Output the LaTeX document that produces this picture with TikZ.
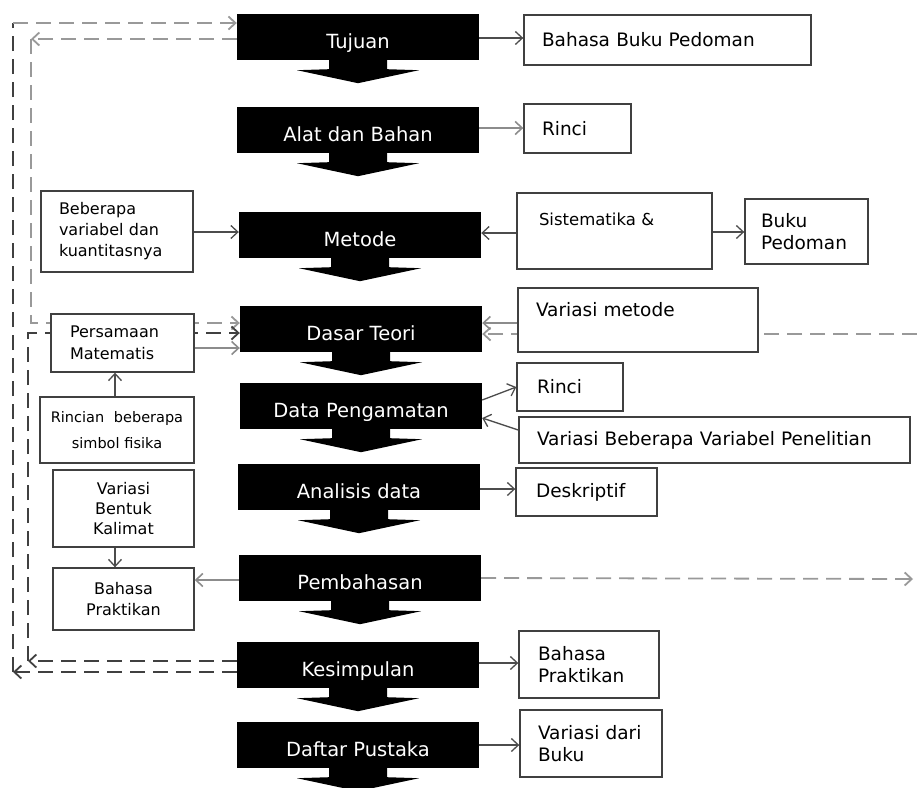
\documentclass[tikz,border=0pt]{standalone}
\usepackage{fontspec}
\setmainfont{DejaVu Sans}
\usetikzlibrary{arrows.meta}
\usetikzlibrary{backgrounds}

\tikzset{
  langkah/.style={fill=black, text=white, minimum width=242pt, minimum height=46pt, inner sep=0pt, text height=27pt, text depth=4pt, font=\fontsize{19.5}{23}\selectfont},
  kotak/.style={draw=black!75, line width=1.4pt, fill=white, inner ysep=2pt},
  kanan/.style={kotak, align=left, inner xsep=18pt, font=\fontsize{18.5}{22}\selectfont},
  kiri/.style={kotak, inner xsep=6pt, font=\fontsize{16}{21}\selectfont},
  garis/.style={draw=black!70, line width=1.3pt},
  garisabu/.style={draw=black!45, line width=1.6pt},
  putus/.style={line width=1.8pt, dash pattern=on 15pt off 8pt},
  >={Straight Barb[length=7pt,width=13pt]}
}

\begin{document}
\begin{tikzpicture}[x=1pt, y=-1pt]

  \useasboundingbox (0,0) rectangle (917,787);

  %langkah utama:
  \node[langkah] (tuj) at (358,37) {Tujuan};
  \node[langkah] (ala) at (358,130) {Alat dan Bahan};
  \node[langkah] (met) at (360,235) {Metode};
  \node[langkah] (das) at (361,329) {Dasar Teori};
  \node[langkah] (dat) at (361,406) {Data Pengamatan};
  \node[langkah] (ana) at (359,487) {Analisis data};
  \node[langkah] (pem) at (360,578) {Pembahasan};
  \node[langkah] (kes) at (358,665) {Kesimpulan};
  \node[langkah] (daf) at (358,745) {Daftar Pustaka};

  %panah blok ke bawah
  \foreach \n in {tuj,ala,met,das,dat,ana,pem,kes,daf}
    \fill[black] ([xshift=-29pt]\n.south) -- ++(0,9) -- ++(-32,1) -- ++(61,13)
      -- ++(61,-13) -- ++(-32,-1) -- ++(0,-9) -- cycle;

  %kotak kanan
  \node[kanan, text width=251pt, minimum height=50pt] (bbp) at (667.5,40) {Bahasa Buku Pedoman};
  \node[kanan, text width=71pt, minimum height=49pt] (rinA) at (577.5,128.5) {Rinci};
  \node[kanan, inner xsep=22pt, text width=151pt, minimum height=76pt, font=\fontsize{16.5}{24}\selectfont] (sis) at (614.5,231) {Sistematika \&\\~};
  \node[kanan, inner xsep=16pt, text width=91pt, minimum height=65pt] (ped) at (806.5,231.5) {Buku\\Pedoman};
  \node[kanan, text width=204pt, minimum height=64pt] (varM) at (638,320) {Variasi metode\\~};
  \node[kanan, inner xsep=20pt, text width=66pt, minimum height=48pt] (rinB) at (570,387) {Rinci};
  \node[kanan, text width=355pt, minimum height=46pt] (varB) at (714.5,440) {Variasi Beberapa Variabel Penelitian};
  \node[kanan, inner xsep=20pt, text width=101pt, minimum height=48pt] (des) at (586.5,492) {Deskriptif};
  \node[kanan, inner xsep=19pt, text width=102pt, minimum height=67pt] (prakR) at (589,664.5) {Bahasa\\Praktikan};
  \node[kanan, text width=106pt, minimum height=67pt] (vdb) at (591,743.5) {Variasi dari\\Buku};

  %kotak kiri
  \node[kiri, align=left, inner xsep=18pt, text width=116pt, minimum height=81pt] (beb) at (117,231.5) {Beberapa\\variabel dan\\kuantitasnya};
  \node[kiri, align=left, inner xsep=19pt, text width=105pt, minimum height=58pt, font=\fontsize{16}{22}\selectfont] (pers) at (122.5,343) {Persamaan\\Matematis};
  \node[kiri, align=center, text width=142pt, minimum height=66pt, font=\fontsize{14.5}{26}\selectfont] (rinc) at (117,430) {Rincian~~beberapa\\simbol fisika};
  \node[kiri, align=center, text width=129pt, minimum height=77pt, font=\fontsize{16}{20}\selectfont] (bent) at (123.5,508.5) {Variasi\\Bentuk\\Kalimat};
  \node[kiri, align=center, text width=129pt, minimum height=62pt] (prakL) at (123.5,599) {Bahasa\\Praktikan};

  %panah biasa
  \draw[garis, ->] (tuj.east |- 0,38) -- (bbp.west |- 0,38);
  \draw[garisabu, ->] (ala.east |- 0,128) -- (rinA.west |- 0,128);
  \draw[garis, ->] (beb.east |- 0,232) -- (met.west |- 0,232);
  \draw[garis, ->] (sis.west |- 0,233) -- (met.east |- 0,233);
  \draw[garis, ->] (sis.east |- 0,232) -- (ped.west |- 0,232);
  \draw[garisabu, ->] (varM.west |- 0,323) -- (das.east |- 0,323);
  \draw[garisabu, ->] (pers.east |- 0,348) -- (das.west |- 0,348);
  \draw[garis, ->] (rinc.north -| 115,0) -- (pers.south -| 115,0);
  \draw[garis, ->] (dat.east |- 0,400) -- (rinB.west |- 0,387);
  \draw[garis, ->] (varB.west |- 0,430) -- (dat.east |- 0,418);
  \draw[garis, ->] (ana.east |- 0,489) -- (des.west |- 0,489);
  \draw[garis, ->] (bent.south -| 115,0) -- (prakL.north -| 115,0);
  \draw[garisabu, ->] (pem.west |- 0,580) -- (prakL.east |- 0,580);
  \draw[garis, ->] (kes.east |- 0,663) -- (prakR.west |- 0,663);
  \draw[garis, ->] (daf.east |- 0,745) -- (vdb.west |- 0,745);

  %garis putus-putus
  \coordinate (luarAtas) at (13,23);
  \coordinate (luarBawah) at (13,672);
  \coordinate (dalamAtas) at (31,39);
  \coordinate (dalamTengah) at (31,323);
  \coordinate (dalamB) at (28,333);
  \coordinate (dalamBawah) at (28,661);
  \coordinate (kananAtas) at (917,334);
  \coordinate (kananBawah) at (913,579);

  \begin{scope}[on background layer]
    \draw[putus, black!75] (luarBawah) -- (luarAtas);
    \draw[putus, black!40, ->] (luarAtas) -- (tuj.west |- luarAtas);
    \draw[putus, black!75, ->] (kes.west |- luarBawah) -- (luarBawah);
    \draw[putus, black!40, ->] (tuj.west |- dalamAtas) -- (dalamAtas);
    \draw[putus, black!40, ->] (dalamAtas) -- (dalamTengah) -- (das.west |- dalamTengah);
    \draw[putus, black!75, ->] (kes.west |- dalamBawah) -- (dalamBawah);
    \draw[putus, black!75, ->] (dalamBawah) -- (dalamB) -- (das.west |- dalamB);
    \draw[putus, black!40, ->] (kananAtas) -- (das.east |- kananAtas);
    \draw[putus, black!40, ->] (pem.east) -- (kananBawah);
  \end{scope}

\end{tikzpicture}
\end{document}
